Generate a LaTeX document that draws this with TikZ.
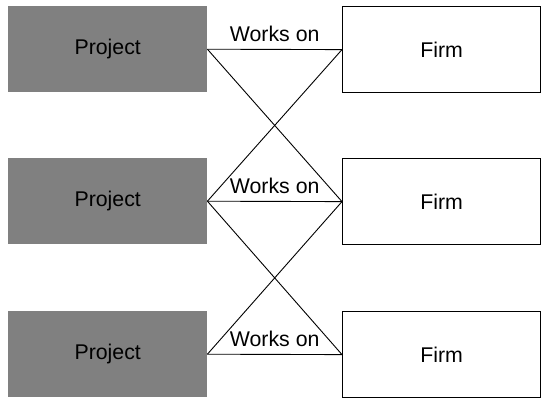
\documentclass[tikz,border=0pt]{standalone}
\usepackage{fontspec}
\setmainfont{Liberation Sans}
\definecolor{projgray}{RGB}{128,128,128}
\begin{document}
\begin{tikzpicture}[x=1pt,y=-1pt,
  lbl/.style={font=\fontsize{21.3}{25}\selectfont},
  projbox/.style={lbl, anchor=north west, fill=projgray, draw=none, minimum width=199pt, minimum height=86pt, inner sep=0pt},
  firmbox/.style={lbl, anchor=north west, fill=white, draw=black, line width=1.2pt, minimum width=198pt, minimum height=86pt, inner sep=0pt},
  conn/.style={draw=black, line width=0.9pt},
  rel/.style={lbl, above=4pt, inner sep=3pt}]
\useasboundingbox (0,0) rectangle (542,399);
\node[projbox] (p1) at (8,6) {Project};
\node[projbox] (p2) at (8,158) {Project};
\node[projbox] (p3) at (8,311) {Project};
\node[firmbox] (f1) at (342,6) {Firm};
\node[firmbox] (f2) at (342,158) {Firm};
\node[firmbox] (f3) at (342,311) {Firm};
\draw[conn] (p1.east) -- node[rel] {Works on} (f1.west);
\draw[conn] (p2.east) -- node[rel] {Works on} (f2.west);
\draw[conn] (p3.east) -- node[rel] {Works on} (f3.west);
\draw[conn] (p1.east) -- (f2.west);
\draw[conn] (f1.west) -- (p2.east);
\draw[conn] (p2.east) -- (f3.west);
\draw[conn] (f2.west) -- (p3.east);
\end{tikzpicture}
\end{document}
